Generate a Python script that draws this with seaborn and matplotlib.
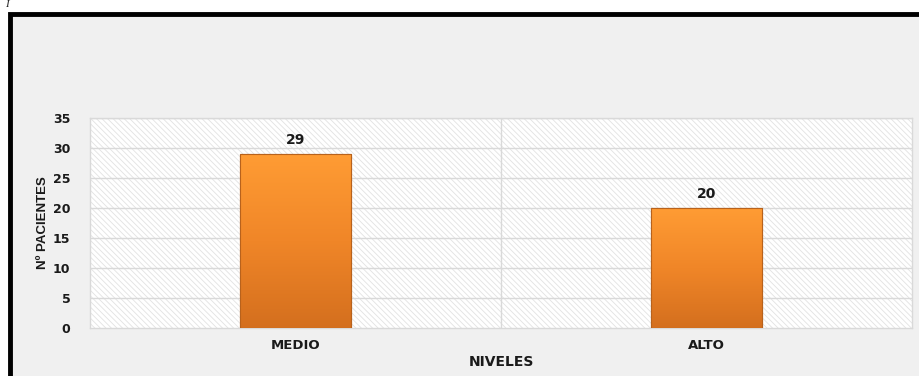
import numpy as np
import pandas as pd
import matplotlib
matplotlib.use("Agg")
import matplotlib.pyplot as plt
from matplotlib.patches import Rectangle
from matplotlib.colors import LinearSegmentedColormap
import seaborn as sns

categories = ["MEDIO", "ALTO"]
values = [29, 20]
yticks = [0, 5, 10, 15, 20, 25, 30, 35]

sns.set_theme(style="white")
plt.rcParams["font.family"] = ["DejaVu Sans"]
plt.rcParams["hatch.linewidth"] = 0.6
plt.rcParams["hatch.color"] = "#E2E2E2"

W, H = 919, 376
fig = plt.figure(figsize=(W / 100, H / 100), dpi=100)
fig.patch.set_facecolor("white")

# Outer panel with thick black border (extends beyond right/bottom edges)
panel = Rectangle((10 / W, -0.1), 1.2, 1 - 14 / H + 0.1, transform=fig.transFigure,
                  facecolor="#F0F0F0", edgecolor="black", linewidth=3.5, zorder=-5)
fig.patches.append(panel)
fig.text(5 / W, 1.0, "I", fontsize=8, style="italic", family="Liberation Serif",
         ha="left", va="top")

ax = fig.add_axes([90 / W, 1 - 328 / H, (912 - 90) / W, (328 - 118) / H])
ax.set_zorder(2)
ax.set_facecolor("white")
ax.add_patch(Rectangle((0, 0), 1, 1, transform=ax.transAxes, facecolor="white",
                       edgecolor="#E2E2E2", hatch="\\\\\\\\\\\\", linewidth=0, zorder=0))

df = pd.DataFrame({"nivel": categories, "n": values})
sns.barplot(data=df, x="nivel", y="n", ax=ax, width=0.27, color="#F58A2A",
            edgecolor="#B8621C", linewidth=0.8, saturation=1, zorder=3)

ax.set_ylim(0, 35)
ax.set_xlim(-0.5, len(categories) - 0.5)
ax.set_yticks(yticks)
ax.set_yticklabels([str(t) for t in yticks], fontsize=9, fontweight="bold", color="#1A1A1A")
ax.tick_params(axis="y", length=0, pad=14)
ax.tick_params(axis="x", length=0, pad=8)
for lbl in ax.get_xticklabels():
    lbl.set_fontsize(9.5)
    lbl.set_fontweight("bold")
    lbl.set_color("#1A1A1A")

for y in yticks[1:]:
    ax.axhline(y, color="#D9D9D9", linewidth=1, zorder=1)
ax.axvline(0.5, color="#D9D9D9", linewidth=1, zorder=1)

for s in ax.spines.values():
    s.set_color("#D9D9D9")
    s.set_linewidth(1)

ax.set_xlabel("NIVELES", fontsize=10, fontweight="bold", color="#1A1A1A", labelpad=2)
ax.set_ylabel("Nº PACIENTES", fontsize=9.5, fontweight="bold", color="#1A1A1A",
              family=["Liberation Sans", "DejaVu Sans"], labelpad=3)

# gradient fill for the bars
cmap = LinearSegmentedColormap.from_list("org", ["#D46F1E", "#F08628", "#FF9C34"])
grad = np.linspace(0, 1, 256).reshape(-1, 1)
bars = list(ax.containers[0])
for p in bars:
    x0, y0 = p.get_x(), p.get_y()
    w, h = p.get_width(), p.get_height()
    if h <= 0:
        continue
    im = ax.imshow(grad, extent=[x0, x0 + w, y0, y0 + h], origin="lower", cmap=cmap,
                   aspect="auto", zorder=3.5)
    im.set_clip_path(p)
    ax.add_patch(Rectangle((x0, y0), w, h, facecolor="none", edgecolor="#B8621C",
                           linewidth=0.8, zorder=4))

ax.set_xlim(-0.5, len(categories) - 0.5)
ax.set_ylim(0, 35)

ax.bar_label(ax.containers[0], labels=[str(v) for v in values], padding=5,
             fontsize=10, fontweight="bold", color="#1A1A1A")

fig.savefig("out.png", dpi=100, facecolor=fig.get_facecolor())
